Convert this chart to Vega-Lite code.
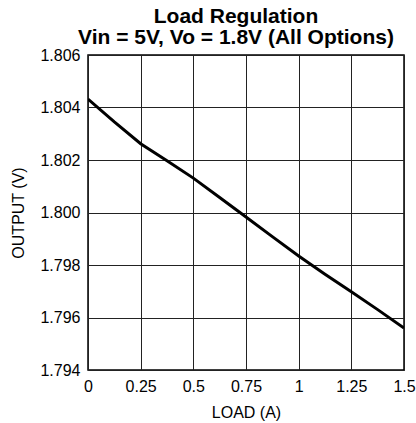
{
  "$schema": "https://vega.github.io/schema/vega-lite/v6.json",
  "width": 316,
  "height": 315,
  "autosize": {"type": "none"},
  "padding": {"left": 88, "top": 55, "right": 12, "bottom": 53},
  "background": "white",
  "title": {
    "text": ["Load Regulation", "Vin = 5V, Vo = 1.8V (All Options)"],
    "font": "Liberation Sans",
    "fontSize": 21,
    "fontWeight": "bold",
    "color": "black",
    "anchor": "middle",
    "dx": -10,
    "offset": -1,
    "lineHeight": 21
  },
  "data": {
    "values": [
      {"load": 0, "out": 1.80432},
      {"load": 0.125, "out": 1.80345},
      {"load": 0.25, "out": 1.80262},
      {"load": 0.375, "out": 1.80197},
      {"load": 0.5, "out": 1.80131},
      {"load": 0.625, "out": 1.80057},
      {"load": 0.75, "out": 1.79983},
      {"load": 0.875, "out": 1.79908},
      {"load": 1.0, "out": 1.79834},
      {"load": 1.125, "out": 1.79765},
      {"load": 1.25, "out": 1.79698},
      {"load": 1.375, "out": 1.7963},
      {"load": 1.5, "out": 1.7956}
    ]
  },
  "mark": {"type": "line", "color": "black", "strokeWidth": 3, "clip": true},
  "encoding": {
    "x": {
      "field": "load",
      "type": "quantitative",
      "scale": {"domain": [0, 1.5], "nice": false, "zero": false},
      "axis": {
        "title": "LOAD (A)",
        "values": [0, 0.25, 0.5, 0.75, 1, 1.25, 1.5],
        "labelExpr": "'' + datum.value",
        "grid": true,
        "gridColor": "#222",
        "gridWidth": 1,
        "gridOpacity": 1,
        "ticks": false,
        "domain": false,
        "labelFont": "Liberation Sans",
        "labelFontSize": 16,
        "labelColor": "black",
        "labelPadding": 8,
        "labelFlush": false,
        "labelOverlap": false,
        "titleFont": "Liberation Sans",
        "titleFontSize": 16,
        "titleFontWeight": "normal",
        "titleColor": "black",
        "titlePadding": 10
      }
    },
    "y": {
      "field": "out",
      "type": "quantitative",
      "scale": {"domain": [1.794, 1.806], "nice": false, "zero": false},
      "axis": {
        "title": "OUTPUT (V)",
        "values": [1.794, 1.796, 1.798, 1.8, 1.802, 1.804, 1.806],
        "format": ".3f",
        "grid": true,
        "gridColor": "#222",
        "gridWidth": 1,
        "gridOpacity": 1,
        "ticks": false,
        "domain": false,
        "labelFont": "Liberation Sans",
        "labelFontSize": 16,
        "labelColor": "black",
        "labelPadding": 8,
        "labelFlush": false,
        "labelOverlap": false,
        "titleFont": "Liberation Sans",
        "titleFontSize": 16,
        "titleFontWeight": "normal",
        "titleColor": "black",
        "titlePadding": 13
      }
    }
  },
  "config": {
    "view": {"stroke": "black", "strokeWidth": 1.5}
  }
}
